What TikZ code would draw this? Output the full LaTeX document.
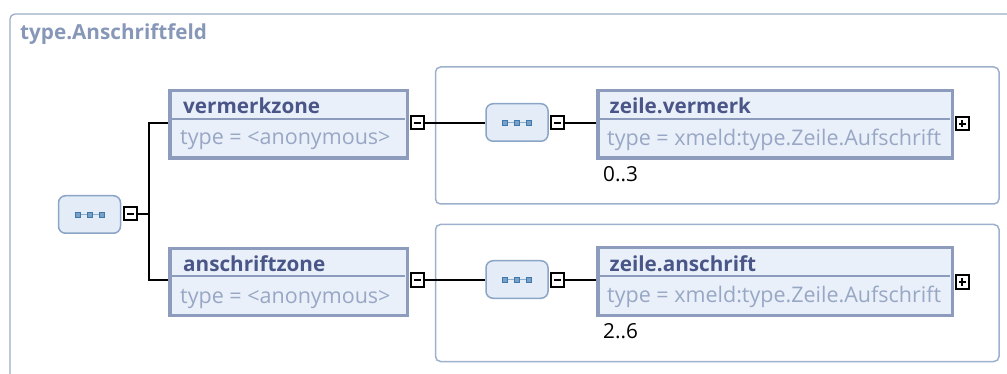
\documentclass[tikz,border=0pt]{standalone}
\usepackage{fontspec}
\setmainfont{Open Sans}
\usetikzlibrary{calc}
\definecolor{elemborder}{HTML}{8D9CBC}
\definecolor{elemfill}{HTML}{E9F0F9}
\definecolor{nametext}{HTML}{4A5688}
\definecolor{typetext}{HTML}{98A7C5}
\definecolor{seqborder}{HTML}{8AA5C6}
\definecolor{seqfill}{HTML}{E3ECF7}
\definecolor{grpborder}{HTML}{9DB0CC}
\definecolor{framecol}{HTML}{9AAAC6}
\definecolor{titlecol}{HTML}{8797B8}
\definecolor{iconcol}{HTML}{3F78AC}
\tikzset{
  elem/.style={draw=elemborder, line width=3.5pt, fill=elemfill, rectangle, inner sep=0pt},
  namet/.style={anchor=base west, inner sep=0pt, font=\fontsize{20.7}{24}\selectfont\bfseries, text=nametext},
  typet/.style={anchor=base west, inner sep=0pt, font=\fontsize{21.5}{25}\selectfont, text=typetext},
  multt/.style={anchor=base west, inner sep=0pt, font=\fontsize{20.7}{24}\selectfont, text=black},
  titlet/.style={anchor=base west, inner sep=0pt, font=\fontsize{20.7}{24}\selectfont\bfseries, text=titlecol},
  sepline/.style={draw=elemborder, line width=2pt},
  tog/.style={draw=black, line width=2pt, fill=white, minimum size=13pt, inner sep=0pt, rectangle},
  minusbox/.style={tog, path picture={\draw[line width=1.8pt] ([xshift=-3.5pt]path picture bounding box.center) -- ([xshift=3.5pt]path picture bounding box.center);}},
  plusbox/.style={tog, path picture={\draw[line width=1.8pt] ([xshift=-3.5pt]path picture bounding box.center) -- ([xshift=3.5pt]path picture bounding box.center) ([yshift=-3.5pt]path picture bounding box.center) -- ([yshift=3.5pt]path picture bounding box.center);}},
  seqn/.style={draw=seqborder, line width=1.5pt, fill=seqfill, rounded corners=7pt, minimum width=62pt, minimum height=37.5pt, inner sep=0pt, rectangle},
  grp/.style={draw=grpborder, line width=1.5pt, rounded corners=5pt},
  conn/.style={line width=2pt, draw=black},
  icsq/.style={draw=iconcol, fill=iconcol!70, line width=0.9pt, minimum size=5pt, inner sep=0pt, rectangle},
  seqicon/.pic={
    \draw[iconcol!60, line width=1.2pt] (-12,0) -- (12,0);
    \foreach \ix in {-12,0,12} \node[icsq] at (\ix,0) {};
  }
}
\begin{document}
\begin{tikzpicture}[x=1pt,y=-1pt]
\useasboundingbox (0,0) rectangle (1007,374);
% outer frame
\draw[draw=framecol, line width=1.3pt, rounded corners=5pt] (10,374) -- (10,14) -- (1007,14);
\node[titlet] (title) at (20,40) {type.Anschriftfeld};

% group frames
\draw[grp] (435.5,67) rectangle (999,204);
\draw[grp] (435.5,224.5) rectangle (999,361.5);

% root sequence
\node[seqn] (s0) at (89.5,214.5) {};
\pic at (s0.center) {seqicon};
\node[minusbox] (m0) at (130.5,214) {};

% vermerkzone
\node[elem, minimum width=237.5pt, minimum height=67.5pt] (vz) at (288.5,124.5) {};
\draw[sepline] ([xshift=2pt,yshift=-30pt]vz.north west) -- ([xshift=-4pt,yshift=-30pt]vz.north east);
\node[namet] (vzn) at (183,114) {vermerkzone};
\node[typet] (vzt) at (180,145) {type = <anonymous>};
\node[minusbox] (mvz) at (417,123) {};

% anschriftzone
\node[elem, minimum width=237.5pt, minimum height=67pt] (az) at (288.5,282) {};
\draw[sepline] ([xshift=2pt,yshift=-29.5pt]az.north west) -- ([xshift=-4pt,yshift=-29.5pt]az.north east);
\node[namet] (azn) at (183,272) {anschriftzone};
\node[typet] (azt) at (180,303) {type = <anonymous>};
\node[minusbox] (maz) at (417.5,280) {};

% upper sequence
\node[seqn] (s1) at (517,122.5) {};
\pic at (s1.center) {seqicon};
\node[minusbox] (m1) at (557.5,123) {};

% lower sequence
\node[seqn] (s2) at (517,279.5) {};
\pic at (s2.center) {seqicon};
\node[minusbox] (m2) at (557.5,280) {};

% zeile.vermerk
\node[elem, minimum width=354.5pt, minimum height=67.5pt] (zv) at (775,124.5) {};
\draw[sepline] ([xshift=2pt,yshift=-30pt]zv.north west) -- ([xshift=-4pt,yshift=-30pt]zv.north east);
\node[namet] (zvn) at (609.5,114) {zeile.vermerk};
\node[typet] (zvt) at (607,146) {type = xmeld:type.Zeile.Aufschrift};
\node[plusbox] (pzv) at (962,124) {};
\node[multt] (zvm) at (603,182) {0..3};

% zeile.anschrift
\node[elem, minimum width=354.5pt, minimum height=67.5pt] (za) at (775,281.5) {};
\draw[sepline] ([xshift=2pt,yshift=-30pt]za.north west) -- ([xshift=-4pt,yshift=-30pt]za.north east);
\node[namet] (zan) at (609.5,272) {zeile.anschrift};
\node[typet] (zat) at (607,302) {type = xmeld:type.Zeile.Aufschrift};
\node[plusbox] (pza) at (962,282) {};
\node[multt] (zam) at (603,338) {2..6};

% connectors
\draw[conn] (m0.east) -- ++(11,0) coordinate (j0);
\draw[conn] (j0) |- (vz.west |- mvz.west);
\draw[conn] (j0) |- (az.west |- maz.west);
\draw[conn] (mvz.east) -- (s1.west |- mvz.east);
\draw[conn] (maz.east) -- (s2.west |- maz.east);
\draw[conn] (m1.east) -- (zv.west |- m1.east);
\draw[conn] (m2.east) -- (za.west |- m2.east);
\end{tikzpicture}
\end{document}
